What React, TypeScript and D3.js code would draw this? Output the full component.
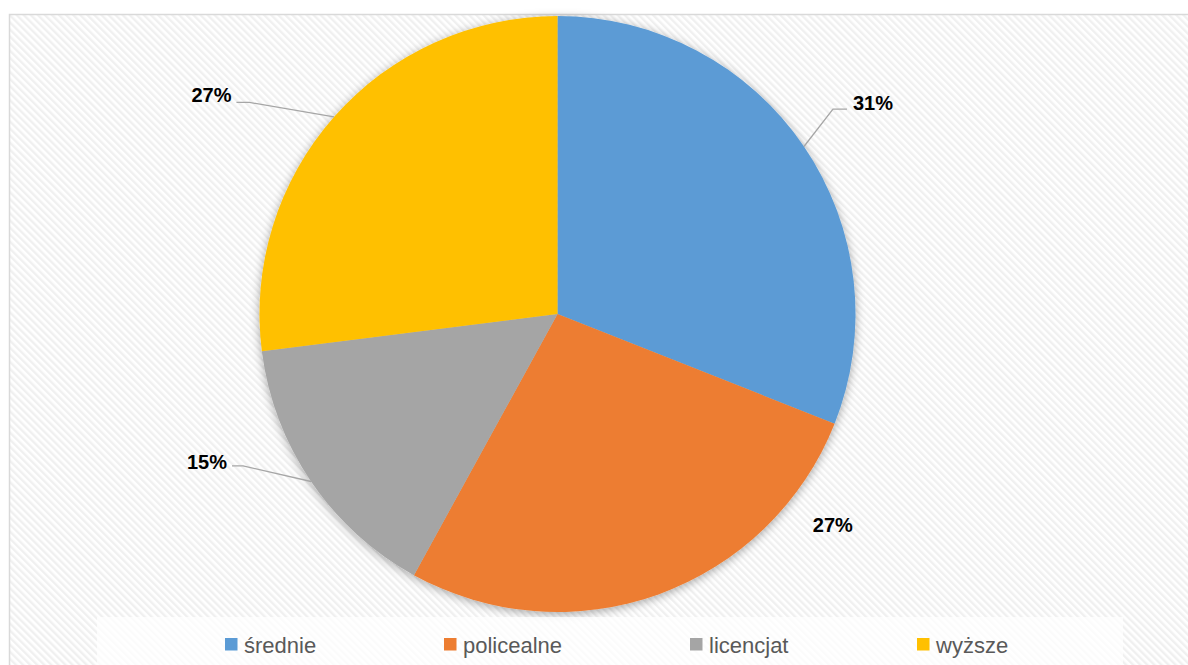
import React from "react";
import * as d3 from "d3";

const categories = ["średnie", "policealne", "licencjat", "wyższe"];
const values = [31, 27, 15, 27];
const labels = ["31%", "27%", "15%", "27%"];
const colors = ["#5B9BD5", "#ED7D31", "#A5A5A5", "#FFC000"];

// layout: leader end offset from arc-edge point at mid angle, bend length, text offsets
const labelLayout = [
  { dx: 43, dy: -37.4, bend: -14, anchor: "start", leader: true, tdy: -6 },
  { dx: 0, dy: 0, bend: 0, anchor: "middle", leader: false, angle: 2.225, r: 347, tdy: 0 },
  { dx: -79, dy: -15.6, bend: 11, anchor: "end", leader: true, tdy: -4 },
  { dx: -97.5, dy: -14.5, bend: 13, anchor: "end", leader: true, tdy: -8 },
];

const W = 1188;
const H = 665;
const cx = 557.5;
const cy = 314;
const R = 298;

export default function App() {
  const pie = d3.pie<number>().sort(null).value((d) => d)(values);
  const arc = d3.arc<d3.PieArcDatum<number>>().innerRadius(0).outerRadius(R);

  const legendX = [225, 444, 690, 917];

  return (
    <svg width={W} height={H} style={{ position: "absolute", left: 0, top: 0 }}>
      <defs>
        <pattern id="hatch" width="5" height="5" patternUnits="userSpaceOnUse" patternTransform="rotate(-45)">
          <rect width="5" height="5" fill="#ffffff" />
          <rect width="2.4" height="5" fill="#f0f0f0" />
        </pattern>
        <filter id="shadow" x="-20%" y="-20%" width="140%" height="140%">
          <feDropShadow dx="0" dy="2" stdDeviation="5" floodColor="#000" floodOpacity="0.35" />
        </filter>
      </defs>
      <rect x={0} y={0} width={W} height={H} fill="#ffffff" />
      <rect x={9.5} y={14.5} width={W} height={H} fill="url(#hatch)" stroke="#d9d9d9" strokeWidth={1.5} />
      <g transform={`translate(${cx},${cy})`}>
        <g filter="url(#shadow)">
          {pie.map((p, i) => (
            <path key={i} d={arc(p) || ""} fill={colors[i]} />
          ))}
        </g>
        {pie.map((p, i) => {
          const L = labelLayout[i];
          const mid = (p.startAngle + p.endAngle) / 2;
          const ex = Math.sin(mid) * R;
          const ey = -Math.cos(mid) * R;
          let lx: number, ly: number;
          if (L.leader) {
            lx = ex + L.dx;
            ly = ey + L.dy;
          } else {
            lx = Math.sin(L.angle as number) * (L.r as number);
            ly = -Math.cos(L.angle as number) * (L.r as number);
          }
          const textX = L.leader ? (L.anchor === "start" ? lx + 6 : lx - 5) : lx;
          const hx = lx + L.bend;
          return (
            <g key={i}>
              {L.leader && (
                <polyline
                  points={`${ex},${ey} ${hx},${ly} ${lx},${ly}`}
                  fill="none"
                  stroke="#a6a6a6"
                  strokeWidth={1.3}
                />
              )}
              <text
                x={textX}
                y={ly + L.tdy}
                dy="0.36em"
                textAnchor={L.anchor as any}
                fontFamily="'Liberation Sans', Arial, sans-serif"
                fontWeight="bold"
                fontSize={20}
                fill="#000"
              >
                {labels[i]}
              </text>
            </g>
          );
        })}
      </g>
      <rect x={97} y={617} width={1026} height={60} fill="#ffffff" fillOpacity={0.75} />
      {categories.map((c, i) => (
        <g key={c}>
          <rect x={legendX[i]} y={638} width={12.5} height={12.5} fill={colors[i]} />
          <text
            x={legendX[i] + 19}
            y={653}
            fontFamily="'Liberation Sans', Arial, sans-serif"
            fontSize={22}
            fill="#595959"
          >
            {c}
          </text>
        </g>
      ))}
    </svg>
  );
}
